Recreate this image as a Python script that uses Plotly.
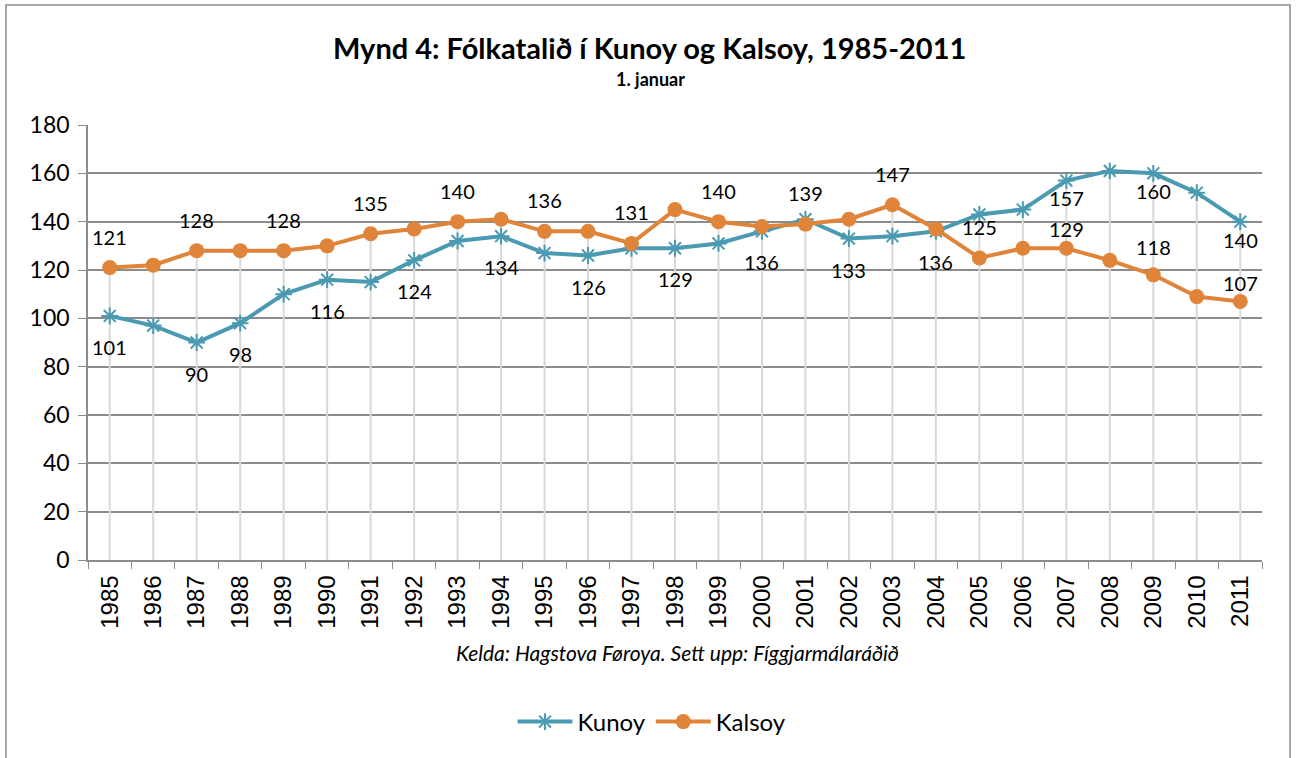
import plotly.graph_objects as go

years = [str(y) for y in range(1985, 2012)]
kunoy = [101, 97, 90, 98, 110, 116, 115, 124, 132, 134, 127, 126, 129, 129, 131,
         136, 141, 133, 134, 136, 143, 145, 157, 161, 160, 152, 140]
kalsoy = [121, 122, 128, 128, 128, 130, 135, 137, 140, 141, 136, 136, 131, 145, 140,
          138, 139, 141, 147, 137, 125, 129, 129, 124, 118, 109, 107]
y_ticks = [0, 20, 40, 60, 80, 100, 120, 140, 160, 180]

kunoy_label_years = ["1985", "1987", "1988", "1990", "1992", "1994", "1996", "1998",
                     "2000", "2002", "2004", "2007", "2009", "2011"]
kalsoy_label_years = ["1985", "1987", "1989", "1991", "1993", "1995", "1997", "1999",
                      "2001", "2003", "2005", "2007", "2009", "2011"]

# label offsets (style only)
DEFAULT_SHIFT = 31
kunoy_shift_override = {"2007": 17, "2009": 18, "2011": 18}
kalsoy_shift_override = {"2007": 19, "2009": 28, "2011": 18}

TEAL = "#4a9ab2"
ORANGE = "#e0843a"
GRID = "#8c8c8c"
DROP = "#d9d9d9"
FONT = "Lato"

fig = go.Figure()

# drop lines from max value to axis
dx, dy = [], []
for i, yr in enumerate(years):
    dx += [yr, yr, None]
    dy += [0, max(kunoy[i], kalsoy[i]), None]
fig.add_trace(go.Scatter(x=dx, y=dy, mode="lines", line=dict(color=DROP, width=2),
                         hoverinfo="skip", showlegend=False))

fig.add_trace(go.Scatter(x=years, y=kunoy, name="Kunoy", mode="lines+markers",
                         line=dict(color=TEAL, width=4),
                         marker=dict(symbol="asterisk-open", size=14,
                                     line=dict(color=TEAL, width=2), color=TEAL)))
fig.add_trace(go.Scatter(x=years, y=kalsoy, name="Kalsoy", mode="lines+markers",
                         line=dict(color=ORANGE, width=4),
                         marker=dict(symbol="circle", size=15, color=ORANGE)))

annotations = []
for yr in kunoy_label_years:
    i = years.index(yr)
    annotations.append(dict(x=i, y=kunoy[i], text=str(kunoy[i]), showarrow=False,
                            xanchor="center", yanchor="middle",
                            yshift=-kunoy_shift_override.get(yr, DEFAULT_SHIFT),
                            font=dict(family=FONT, size=20, color="#000")))
for yr in kalsoy_label_years:
    i = years.index(yr)
    annotations.append(dict(x=i, y=kalsoy[i], text=str(kalsoy[i]), showarrow=False,
                            xanchor="center", yanchor="middle",
                            yshift=kalsoy_shift_override.get(yr, DEFAULT_SHIFT),
                            font=dict(family=FONT, size=20, color="#000")))

L, R, T, B = 88, 36, 125, 198
W, H = 1298, 758
PW, PH = W - L - R, H - T - B


def px(x):
    return (x - L) / PW


def py(y):
    return (H - B - y) / PH


annotations += [
    dict(xref="paper", yref="paper", x=px(649), y=py(47), xanchor="center", yanchor="middle",
         text="<b>Mynd 4: Fólkatalið í Kunoy og Kalsoy, 1985-2011</b>",
         showarrow=False, font=dict(family=FONT, size=29, color="#000")),
    dict(xref="paper", yref="paper", x=px(650), y=py(79), xanchor="center", yanchor="middle",
         text="<b>1. januar</b>", showarrow=False,
         font=dict(family=FONT, size=18, color="#000")),
    dict(xref="paper", yref="paper", x=px(678), y=py(652), xanchor="center", yanchor="middle",
         text="<i>Kelda: Hagstova Føroya. Sett upp: Fíggjarmálaráðið</i>",
         showarrow=False, font=dict(family=FONT, size=21, color="#000")),
]

fig.update_layout(
    width=W, height=H,
    margin=dict(l=L, r=R, t=T, b=B),
    paper_bgcolor="white", plot_bgcolor="white",
    annotations=annotations,
    shapes=[dict(type="rect", xref="paper", yref="paper",
                 x0=px(6), x1=px(1290), y0=py(800), y1=py(5),
                 line=dict(color="#8c8c8c", width=1.5), layer="below")],
    legend=dict(orientation="h", xref="paper", yref="paper",
                x=px(652), y=py(722), xanchor="center", yanchor="middle",
                font=dict(family=FONT, size=24, color="#000"),
                itemwidth=55, bgcolor="rgba(0,0,0,0)"),
    xaxis=dict(type="category", range=[-0.5, len(years) - 0.5],
               tickson="boundaries", ticks="outside", ticklen=7, tickcolor=GRID,
               showline=True, linecolor=GRID, linewidth=1.5, showgrid=False,
               tickangle=-90, ticklabelstandoff=4,
               tickfont=dict(family="Liberation Sans", size=24, color="#000"),
               zeroline=False),
    yaxis=dict(range=[0, 180], tickvals=y_ticks, ticks="outside", ticklen=8,
               tickcolor=GRID, showline=True, linecolor=GRID, linewidth=1.5,
               showgrid=True, gridcolor=GRID, gridwidth=1.5, zeroline=False,
               ticklabelstandoff=4,
               tickfont=dict(family=FONT, size=23, color="#000")),
    hovermode=False,
)

fig.write_html("out.html", config={"displayModeBar": False},
               post_script="document.body.style.margin='0';")
